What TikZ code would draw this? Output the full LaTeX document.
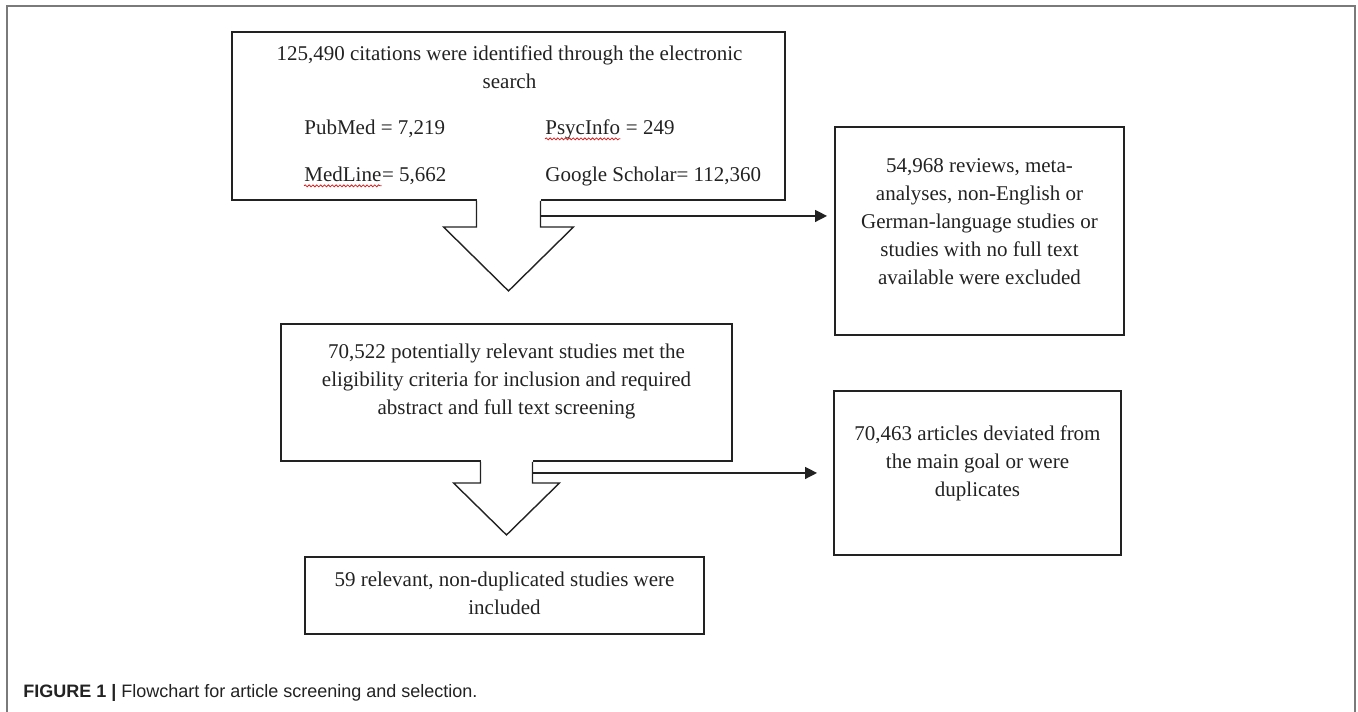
\documentclass[tikz,border=0pt]{standalone}
\usepackage{fontspec}
\setmainfont{Liberation Serif}
\newfontfamily\capfont{Liberation Sans}
\usetikzlibrary{arrows.meta,decorations.pathmorphing}
\definecolor{framegray}{HTML}{7A7A7A}
\definecolor{inkgray}{HTML}{222222}
\definecolor{spellred}{HTML}{D42020}

\begin{document}
\begin{tikzpicture}[
  box/.style  ={draw=inkgray, line width=1.1pt, inner sep=0pt},
  txt/.style  ={align=center, inner sep=0pt, text=inkgray,
                font=\fontsize{11.95}{15.94}\selectfont},
  row/.style  ={anchor=base west, inner sep=0pt, text=inkgray,
                font=\fontsize{11.95}{15.94}\selectfont},
  blk/.style  ={line width=0.8pt, inkgray, line join=miter},
  fwd/.style  ={-{Triangle[length=0.24cm, width=0.24cm]}, line width=0.8pt, inkgray},
  squig/.style={spellred, line width=0.45pt, decorate,
                decoration={snake, amplitude=0.55pt, segment length=2.2pt}},
  frm/.style  ={framegray, line width=1.2pt},
]
\useasboundingbox (0,0) rectangle (27.16,14.24);

% ---------------- outer frame (open at the bottom) ----------------
\draw[frm] (0.14,0) -- (0.14,14.12) -- (27.10,14.12) -- (27.10,0);

% ---------------- search box ----------------
\node[box, minimum width=11.06cm, minimum height=3.36cm] (srch) at (10.17,11.92) {};
\node[txt] (srch-t) at (10.19,12.89)
  {125,490 citations were identified through the electronic\\search};
\node[row] (pub) at (6.08,11.54) {PubMed = 7,219};
\node[row] (psy) at (10.90,11.54) {PsycInfo};
\node[row] (psy-n) at (psy.base east) {\ = 249};
\node[row] (med) at (6.08,10.60) {MedLine};
\node[row] (med-n) at (med.base east) {= 5,662};
\node[row] (goo) at (10.90,10.60) {Google Scholar= 112,360};
\draw[squig] ([yshift=-2.2pt]psy.base west) -- ([yshift=-2.2pt]psy.base east);
\draw[squig] ([yshift=-2.2pt]med.base west) -- ([yshift=-2.2pt]med.base east);

% ---------------- excluded after search ----------------
\node[box, minimum width=5.78cm, minimum height=4.16cm] (excl) at (19.59,9.62) {};
\node[txt] (excl-t) at (19.59,9.81)
  {54,968 reviews, meta-\\analyses, non-English or\\German-language studies or\\
   studies with no full text\\available were excluded};

% ---------------- screening box ----------------
\node[box, minimum width=9.02cm, minimum height=2.74cm] (scr) at (10.13,6.39) {};
\node[txt] (scr-t) at (10.13,6.61)
  {70,522 potentially relevant studies met the\\eligibility criteria for inclusion and required\\
   abstract and full text screening};

% ---------------- excluded after screening ----------------
\node[box, minimum width=5.74cm, minimum height=3.28cm] (dev) at (19.55,4.78) {};
\node[txt] (dev-t) at (19.55,4.98)
  {70,463 articles deviated from\\the main goal or were\\duplicates};

% ---------------- included ----------------
\node[box, minimum width=7.98cm, minimum height=1.54cm] (incl) at (10.09,2.33) {};
\node[txt] (incl-t) at (10.09,2.37)
  {59 relevant, non-duplicated studies were\\included};

% ---------------- block arrow 1 ----------------
\fill[white] ([shift={(-0.64,0.04)}]srch.south) rectangle ([shift={(0.64,-0.30)}]srch.south);
\draw[blk] ([xshift=-0.64cm]srch.south) -- ([shift={(-0.64,-0.52)}]srch.south)
  -- ([shift={(-1.30,-0.52)}]srch.south) -- ([yshift=-1.80cm]srch.south)
  -- ([shift={(1.30,-0.52)}]srch.south) -- ([shift={(0.64,-0.52)}]srch.south)
  -- ([xshift=0.64cm]srch.south);
\coordinate (s1) at ([shift={(0.64,-0.30)}]srch.south);
\draw[fwd, shorten >=0.14cm] (s1) -- (s1 -| excl.west);

% ---------------- block arrow 2 ----------------
\fill[white] ([shift={(-0.52,0.04)}]scr.south) rectangle ([shift={(0.52,-0.22)}]scr.south);
\draw[blk] ([xshift=-0.52cm]scr.south) -- ([shift={(-0.52,-0.42)}]scr.south)
  -- ([shift={(-1.06,-0.42)}]scr.south) -- ([yshift=-1.46cm]scr.south)
  -- ([shift={(1.06,-0.42)}]scr.south) -- ([shift={(0.52,-0.42)}]scr.south)
  -- ([xshift=0.52cm]scr.south);
\coordinate (s2) at ([shift={(0.52,-0.22)}]scr.south);
\draw[fwd, shorten >=0.32cm] (s2) -- (s2 -| dev.west);

% ---------------- caption ----------------
\node[anchor=west, inner sep=0pt, text=inkgray,
      font=\capfont\fontsize{10.24}{12}\selectfont] (cap) at (0.46,0.38)
  {\textbf{FIGURE 1 |} Flowchart for article screening and selection.};

\end{tikzpicture}
\end{document}
